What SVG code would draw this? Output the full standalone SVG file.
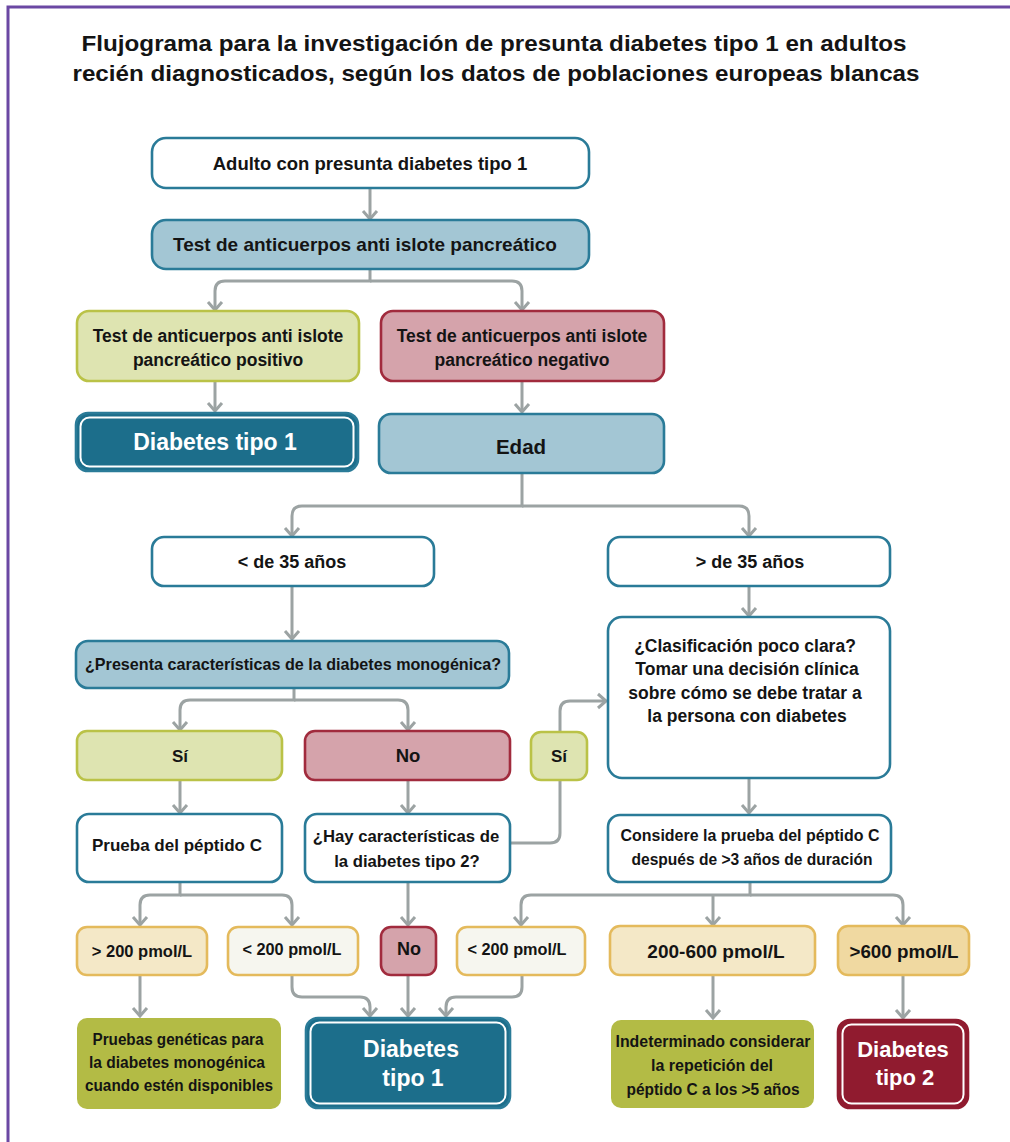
<svg xmlns="http://www.w3.org/2000/svg" width="1010" height="1142" viewBox="0 0 1010 1142">
<style>
text{font-family:"Liberation Sans",Arial,sans-serif;font-weight:bold;fill:#141414;text-anchor:middle}
.w{fill:#fff}
.white{fill:#fff;stroke:#2a7b98;stroke-width:2.6}
.blue{fill:#a3c6d4;stroke:#2a7b98;stroke-width:2.6}
.green{fill:#dee4b1;stroke:#bac247;stroke-width:2.6}
.pink{fill:#d5a3ab;stroke:#a12b3d;stroke-width:2.6}
.cream{fill:#f4e8c7;stroke:#e4ba5c;stroke-width:2.6}
.off{fill:#f6f6ef;stroke:#e4ba5c;stroke-width:2.6}
.gold{fill:#f0d9a1;stroke:#e4ba5c;stroke-width:2.6}
.olive{fill:#b3bb45}
.dt1{fill:#1c6e8b;stroke:#2a7b98;stroke-width:2.6}
.dt2{fill:#901b2f;stroke:#901b2f;stroke-width:2.6}
.inner{fill:none;stroke:#fff;stroke-width:2}
.c{fill:none;stroke:#9ca3a3;stroke-width:3}
.a{marker-end:url(#ah)}
</style>
<defs>
<marker id="ah" viewBox="-10 -9 12 18" refX="0" refY="0" markerWidth="12" markerHeight="18" orient="auto" markerUnits="userSpaceOnUse">
<path d="M-8,-7 L0,0 L-8,7" fill="none" stroke="#9ca3a3" stroke-width="3"/>
</marker>
</defs>
<rect width="1010" height="1142" fill="#fff"/>
<path d="M8,1142 V7 H1010" fill="none" stroke="#6b48a3" stroke-width="3"/>

<g id="title">
<text x="494" y="51" font-size="22" textLength="825" lengthAdjust="spacingAndGlyphs">Flujograma para la investigación de presunta diabetes tipo 1 en adultos</text>
<text x="496" y="81" font-size="22" textLength="847" lengthAdjust="spacingAndGlyphs">recién diagnosticados, según los datos de poblaciones europeas blancas</text>
</g>

<g id="connectors">
<path class="c a" d="M370,188 V219"/>
<path class="c a" d="M370,269 V281 H225 Q215,281 215,291 V310"/>
<path class="c a" d="M370,281 H512 Q522,281 522,291 V310"/>
<path class="c a" d="M215,381 V411"/>
<path class="c a" d="M522,381 V412"/>
<path class="c a" d="M522,473 V506 H302 Q292,506 292,516 V536"/>
<path class="c a" d="M522,506 H739 Q749,506 749,516 V536"/>
<path class="c a" d="M292,586 V639"/>
<path class="c a" d="M749,586 V616"/>
<path class="c a" d="M294,688 V700 H190 Q180,700 180,710 V730"/>
<path class="c a" d="M294,700 H398 Q408,700 408,710 V730"/>
<path class="c a" d="M180,780 V813"/>
<path class="c a" d="M408,780 V813"/>
<path class="c a" d="M560,731 V711 Q560,701 570,701 H606"/>
<path class="c" d="M510,843 H550 Q560,843 560,833 V780"/>
<path class="c a" d="M749,778 V813"/>
<path class="c a" d="M180,882 V895 H150 Q140,895 140,905 V925"/>
<path class="c a" d="M180,895 H282 Q292,895 292,905 V925"/>
<path class="c a" d="M408,882 V925"/>
<path class="c a" d="M750,882 V895 H531 Q521,895 521,905 V925"/>
<path class="c a" d="M750,895 H893 Q903,895 903,905 V925"/>
<path class="c a" d="M713,895 V925"/>
<path class="c a" d="M140,976 V1016"/>
<path class="c a" d="M292,976 V987 Q292,997 302,997 H360 Q370,997 370,1007 V1016"/>
<path class="c a" d="M408,976 V1016"/>
<path class="c a" d="M522,976 V987 Q522,997 512,997 H456 Q446,997 446,1007 V1016"/>
<path class="c a" d="M713,976 V1018"/>
<path class="c a" d="M903,976 V1018"/>
</g>

<g id="n-adulto">
<rect class="white" x="152" y="138" width="437" height="50" rx="14"/>
<text x="370" y="170" font-size="18.5">Adulto con presunta diabetes tipo 1</text>
</g>
<g id="n-test">
<rect class="blue" x="152" y="220" width="437" height="49" rx="14"/>
<text x="365" y="251" font-size="19">Test de anticuerpos anti islote pancreático</text>
</g>
<g id="n-positivo">
<rect class="green" x="77" y="311" width="282" height="70" rx="12"/>
<text x="218" y="342" font-size="17.5">Test de anticuerpos anti islote</text>
<text x="218" y="366" font-size="17.5">pancreático positivo</text>
</g>
<g id="n-negativo">
<rect class="pink" x="381" y="311" width="283" height="70" rx="12"/>
<text x="522" y="342" font-size="17.5">Test de anticuerpos anti islote</text>
<text x="522" y="366" font-size="17.5">pancreático negativo</text>
</g>
<g id="n-dt1-top">
<rect class="dt1" x="76" y="413" width="282" height="58" rx="12"/>
<rect class="inner" x="80.5" y="417.5" width="273" height="49" rx="9"/>
<text class="w" x="215" y="450" font-size="23">Diabetes tipo 1</text>
</g>
<g id="n-edad">
<rect class="blue" x="379" y="414" width="285" height="59" rx="12"/>
<text x="521" y="454" font-size="20.5">Edad</text>
</g>
<g id="n-menor35">
<rect class="white" x="152" y="537" width="282" height="49" rx="12"/>
<text x="292" y="568" font-size="18">&lt; de 35 años</text>
</g>
<g id="n-mayor35">
<rect class="white" x="608" y="537" width="282" height="49" rx="12"/>
<text x="750" y="568" font-size="18">&gt; de 35 años</text>
</g>
<g id="n-monogenica">
<rect class="blue" x="76" y="641" width="433" height="47" rx="12"/>
<text x="293" y="670" font-size="16.5" textLength="416" lengthAdjust="spacingAndGlyphs">¿Presenta características de la diabetes monogénica?</text>
</g>
<g id="n-si">
<rect class="green" x="77" y="731" width="205" height="49" rx="10"/>
<text x="180" y="762" font-size="17">Sí</text>
</g>
<g id="n-no">
<rect class="pink" x="305" y="731" width="205" height="49" rx="10"/>
<text x="408" y="762" font-size="18.5">No</text>
</g>
<g id="n-si-small">
<rect class="green" x="531" y="732" width="56" height="48" rx="10"/>
<text x="559" y="762" font-size="17">Sí</text>
</g>
<g id="n-clasificacion">
<rect class="white" x="608" y="617" width="282" height="161" rx="14"/>
<text x="745" y="652" font-size="17.5">¿Clasificación poco clara?</text>
<text x="747" y="675" font-size="17.5">Tomar una decisión clínica</text>
<text x="745" y="699" font-size="17.5">sobre cómo se debe tratar a</text>
<text x="747" y="722" font-size="17.5">la persona con diabetes</text>
</g>
<g id="n-peptido">
<rect class="white" x="77" y="814" width="205" height="68" rx="12"/>
<text x="177" y="851" font-size="17">Prueba del péptido C</text>
</g>
<g id="n-tipo2">
<rect class="white" x="305" y="814" width="205" height="68" rx="12"/>
<text x="406" y="842" font-size="16.7">¿Hay características de</text>
<text x="407" y="867" font-size="16.7">la diabetes tipo 2?</text>
</g>
<g id="n-considere">
<rect class="white" x="608" y="815" width="283" height="67" rx="12"/>
<text x="750" y="841" font-size="16.5" textLength="259" lengthAdjust="spacingAndGlyphs">Considere la prueba del péptido C</text>
<text x="752" y="865" font-size="16.5" textLength="241" lengthAdjust="spacingAndGlyphs">después de &gt;3 años de duración</text>
</g>
<g id="n-mas200">
<rect class="cream" x="77" y="927" width="130" height="48" rx="10"/>
<text x="142" y="957" font-size="16.5">&gt; 200 pmol/L</text>
</g>
<g id="n-menos200a">
<rect class="off" x="228" y="927" width="130" height="48" rx="10"/>
<text x="292" y="955" font-size="16.3">&lt; 200 pmol/L</text>
</g>
<g id="n-no-small">
<rect class="pink" x="381" y="927" width="55" height="48" rx="10"/>
<text x="409" y="955" font-size="18">No</text>
</g>
<g id="n-menos200b">
<rect class="off" x="457" y="927" width="128" height="48" rx="10"/>
<text x="517" y="955" font-size="16.3">&lt; 200 pmol/L</text>
</g>
<g id="n-200-600">
<rect class="cream" x="610" y="926" width="205" height="49" rx="10"/>
<text x="716" y="958" font-size="19">200-600 pmol/L</text>
</g>
<g id="n-mas600">
<rect class="gold" x="838" y="926" width="131" height="49" rx="10"/>
<text x="904" y="958" font-size="18.8">&gt;600 pmol/L</text>
</g>
<g id="n-geneticas">
<rect class="olive" x="77" y="1018" width="204" height="91" rx="10"/>
<text x="178" y="1045" font-size="16" textLength="171" lengthAdjust="spacingAndGlyphs">Pruebas genéticas para</text>
<text x="177" y="1068" font-size="16" textLength="176" lengthAdjust="spacingAndGlyphs">la diabetes monogénica</text>
<text x="179" y="1091" font-size="16" textLength="188" lengthAdjust="spacingAndGlyphs">cuando estén disponibles</text>
</g>
<g id="n-dt1-bottom">
<rect class="dt1" x="306" y="1018" width="204" height="90" rx="12"/>
<rect class="inner" x="310.5" y="1022.5" width="195" height="81" rx="9"/>
<text class="w" x="411" y="1057" font-size="23">Diabetes</text>
<text class="w" x="413" y="1086" font-size="23">tipo 1</text>
</g>
<g id="n-indeterminado">
<rect class="olive" x="611" y="1020" width="203" height="88" rx="10"/>
<text x="713" y="1047" font-size="16" textLength="195" lengthAdjust="spacingAndGlyphs">Indeterminado considerar</text>
<text x="712" y="1071" font-size="16" textLength="122" lengthAdjust="spacingAndGlyphs">la repetición del</text>
<text x="713" y="1095" font-size="16" textLength="173" lengthAdjust="spacingAndGlyphs">péptido C a los &gt;5 años</text>
</g>
<g id="n-dt2">
<rect class="dt2" x="838" y="1020" width="130" height="88" rx="12"/>
<rect class="inner" x="842.5" y="1024.5" width="121" height="79" rx="9"/>
<text class="w" x="903" y="1057" font-size="22">Diabetes</text>
<text class="w" x="905" y="1085" font-size="22">tipo 2</text>
</g>
</svg>
